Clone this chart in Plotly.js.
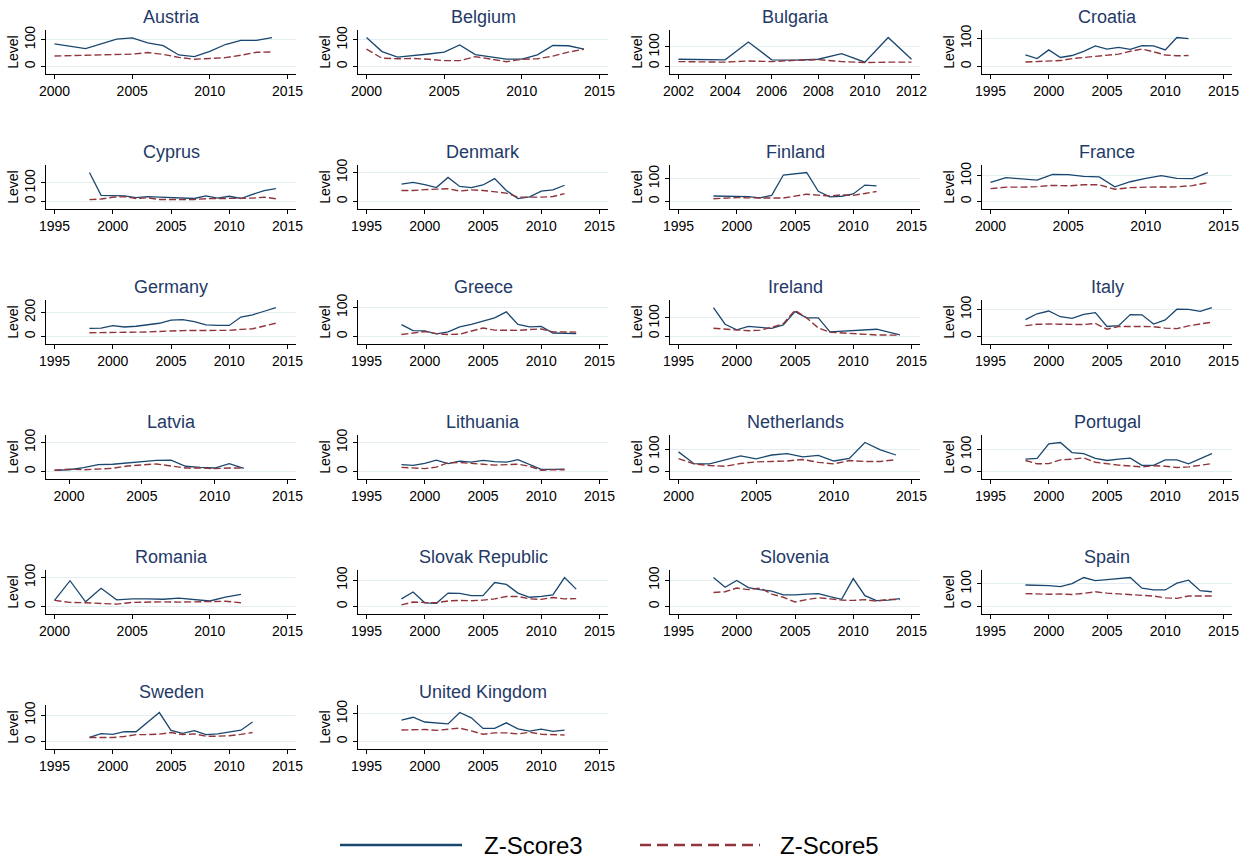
<!DOCTYPE html>
<html>
<head>
<meta charset="utf-8">
<script src="https://cdn.plot.ly/plotly-3.0.1.min.js"></script>
<style>html,body{margin:0;padding:0;background:#fff;}#chart{width:1246px;height:862px;}</style>
</head>
<body>
<div id="chart"></div>
<script>
// ---------- DATA ----------
const countries = ["Austria","Belgium","Bulgaria","Croatia","Cyprus","Denmark","Finland","France",
  "Germany","Greece","Ireland","Italy","Latvia","Lithuania","Netherlands","Portugal",
  "Romania","Slovak Republic","Slovenia","Spain","Sweden","United Kingdom"];

const yearsAustria = [2000,2002,2004,2005,2006,2007,2008,2009,2010,2011,2012,2013,2014];
const z3Austria = [84,67,102,107,88,78,43,37,56,82,97,97,108];
const z5Austria = [39,42,43,46,52,45,34,27,30,33,42,53,54];

const yearsBelgium = [2000,2001,2002,2003,2004,2005,2006,2007,2008,2009,2010,2011,2012,2013,2014];
const z3Belgium = [109,56,35,40,47,54,81,45,37,28,28,44,79,78,65];
const z5Belgium = [65,31,29,30,27,22,22,37,28,18,27,29,39,54,65];

const yearsBulgaria = [2002,2003,2004,2005,2006,2007,2008,2009,2010,2011,2012];
const z3Bulgaria = [37,35,34,125,34,32,37,66,22,148,37];
const z5Bulgaria = [25,24,22,28,25,31,35,25,20,22,22];

const yearsCroatia = [1998,1999,2000,2001,2002,2003,2004,2005,2006,2007,2008,2009,2010,2011,2012];
const z3Croatia = [41,28,59,32,39,54,73,62,68,61,74,73,59,103,99];
const z5Croatia = [16,17,19,21,28,32,35,40,44,54,62,52,41,38,39];

const yearsCyprus = [1998,1999,2000,2001,2002,2003,2004,2005,2006,2007,2008,2009,2010,2011,2012,2013,2014];
const z3Cyprus = [156,33,31,30,21,26,23,21,20,16,30,18,28,16,38,59,69];
const z5Cyprus = [10,13,23,26,16,20,11,10,11,11,15,16,18,15,18,23,15];

const yearsDenmark = [1998,1999,2000,2001,2002,2003,2004,2005,2006,2007,2008,2009,2010,2011,2012];
const z3Denmark = [60,66,58,48,83,52,48,57,79,38,10,16,36,40,56];
const z5Denmark = [38,38,41,42,44,36,40,38,33,29,15,14,15,17,27];

const yearsFinland = [1998,1999,2000,2001,2002,2003,2004,2005,2006,2007,2008,2009,2010,2011,2012];
const z3Finland = [24,24,21,21,16,27,116,121,127,45,20,23,33,72,68];
const z5Finland = [12,16,17,16,17,15,15,25,32,28,24,29,27,35,44];

const yearsFrance = [2000,2001,2002,2003,2004,2005,2006,2007,2008,2009,2010,2011,2012,2013,2014];
const z3France = [75,93,88,83,106,105,98,96,57,77,90,101,90,89,113];
const z5France = [50,56,56,58,63,61,65,65,48,54,56,56,57,62,74];

const yearsGermany = [1998,1999,2000,2001,2002,2003,2004,2005,2006,2007,2008,2009,2010,2011,2012,2013,2014];
const z3Germany = [67,69,90,79,85,97,110,136,141,123,97,92,92,162,180,210,241];
const z5Germany = [31,31,31,31,36,38,44,46,49,49,46,49,51,59,64,87,110];

const yearsGreece = [1998,1999,2000,2001,2002,2003,2004,2005,2006,2007,2008,2009,2010,2011,2012,2013];
const z3Greece = [41,20,19,9,16,33,42,52,64,85,42,33,35,12,11,10];
const z5Greece = [7,12,17,10,7,8,18,29,22,21,21,24,26,16,15,15];

const yearsIreland = [1998,1999,2000,2001,2002,2003,2004,2005,2006,2007,2008,2010,2012,2014];
const z3Ireland = [156,66,36,54,49,44,62,134,100,100,25,32,39,8];
const z5Ireland = [44,39,33,31,34,49,69,141,100,46,23,16,8,7];

const yearsItaly = [1998,1999,2000,2001,2002,2003,2004,2005,2006,2007,2008,2009,2010,2011,2012,2013,2014];
const z3Italy = [62,84,94,73,67,82,88,37,40,81,80,46,61,101,100,93,107];
const z5Italy = [40,45,46,45,43,44,48,27,37,38,37,36,31,29,39,46,53];

const yearsLatvia = [1999,2000,2001,2002,2003,2004,2005,2006,2007,2008,2009,2010,2011,2012];
const z3Latvia = [4,6,13,24,25,30,34,38,39,18,14,12,27,11];
const z5Latvia = [4,8,6,8,11,19,22,26,19,12,12,10,12,12];

const yearsLithuania = [1998,1999,2000,2001,2002,2003,2004,2005,2006,2007,2008,2009,2010,2011,2012];
const z3Lithuania = [24,21,28,39,27,36,32,38,34,32,41,23,7,7,8];
const z5Lithuania = [14,12,10,15,30,31,29,25,22,24,25,18,4,6,6];

const yearsNetherlands = [2000,2001,2002,2003,2004,2005,2006,2007,2008,2009,2010,2011,2012,2013,2014];
const z3Netherlands = [88,35,34,51,70,57,74,80,66,72,47,59,130,97,74];
const z5Netherlands = [58,34,27,23,36,43,45,47,54,41,34,49,45,45,53];

const yearsPortugal = [1998,1999,2000,2001,2002,2003,2004,2005,2006,2007,2008,2009,2010,2011,2012,2013,2014];
const z3Portugal = [56,60,126,132,86,81,60,50,56,61,28,28,53,53,35,58,81];
const z5Portugal = [50,35,36,53,56,62,42,35,29,25,21,26,24,18,21,28,36];

const yearsRomania = [2000,2001,2002,2003,2004,2005,2006,2007,2008,2009,2010,2011,2012];
const z3Romania = [21,89,16,63,23,26,26,25,29,23,19,32,42];
const z5Romania = [21,14,13,11,8,14,16,16,15,16,17,18,13];

const yearsSlovak = [1998,1999,2000,2001,2002,2003,2004,2005,2006,2007,2008,2009,2010,2011,2012,2013];
const z3Slovak = [29,55,14,12,51,50,41,41,91,84,51,35,38,44,110,66];
const z5Slovak = [6,17,15,14,21,23,22,24,29,38,38,29,27,34,29,30];

const yearsSlovenia = [1998,1999,2000,2001,2002,2003,2004,2005,2006,2007,2008,2009,2010,2011,2012,2013,2014];
const z3Slovenia = [110,73,99,72,64,58,44,44,47,49,37,27,106,41,22,24,30];
const z5Slovenia = [53,56,70,64,70,47,35,17,26,33,29,24,23,26,20,27,26];

const yearsSpain = [1998,1999,2000,2001,2002,2003,2004,2005,2006,2007,2008,2009,2010,2011,2012,2013,2014];
const z3Spain = [95,95,92,88,101,128,114,119,124,128,81,73,73,103,116,70,65];
const z5Spain = [57,54,54,55,53,58,65,59,55,51,49,46,38,36,46,46,46];

const yearsSweden = [1998,1999,2000,2001,2002,2003,2004,2005,2006,2007,2008,2009,2010,2011,2012];
const z3Sweden = [16,30,27,37,37,74,110,42,31,41,26,29,35,43,74];
const z5Sweden = [15,14,15,19,26,26,28,34,26,29,20,20,22,27,34];

const yearsUK = [1998,1999,2000,2001,2002,2003,2004,2005,2006,2007,2008,2009,2010,2011,2012];
const z3UK = [77,87,70,67,63,104,85,47,47,67,45,37,44,36,41];
const z5UK = [41,42,43,40,44,48,38,26,31,31,27,33,26,24,23];

// x-axis tick labels (first, last, step) and y tick step per panel
const xTickFrom = [2000,2000,2002,1995,1995,1995,1995,2000,1995,1995,1995,1995,2000,1995,2000,1995,2000,1995,1995,1995,1995,1995];
const xTickTo   = [2015,2015,2012,2015,2015,2015,2015,2015,2015,2015,2015,2015,2015,2015,2015,2015,2015,2015,2015,2015,2015,2015];
const xTickStep = [5,5,2,5,5,5,5,5,5,5,5,5,5,5,5,5,5,5,5,5,5,5];
const yTickStep = [100,100,100,100,100,100,100,100,200,100,100,100,100,100,100,100,100,100,100,100,100,100];
const yTitles = ["Level","Level","Level","Level","Level","Level","Level","Level","Level","Level","Level","Level",
  "Level","Level","Level","Level","Level","","","Level","Level","Level"];
const seriesNames = ["Z-Score3","Z-Score5"];

const yearsList = [yearsAustria,yearsBelgium,yearsBulgaria,yearsCroatia,yearsCyprus,yearsDenmark,yearsFinland,yearsFrance,
  yearsGermany,yearsGreece,yearsIreland,yearsItaly,yearsLatvia,yearsLithuania,yearsNetherlands,yearsPortugal,
  yearsRomania,yearsSlovak,yearsSlovenia,yearsSpain,yearsSweden,yearsUK];
const z3List = [z3Austria,z3Belgium,z3Bulgaria,z3Croatia,z3Cyprus,z3Denmark,z3Finland,z3France,
  z3Germany,z3Greece,z3Ireland,z3Italy,z3Latvia,z3Lithuania,z3Netherlands,z3Portugal,
  z3Romania,z3Slovak,z3Slovenia,z3Spain,z3Sweden,z3UK];
const z5List = [z5Austria,z5Belgium,z5Bulgaria,z5Croatia,z5Cyprus,z5Denmark,z5Finland,z5France,
  z5Germany,z5Greece,z5Ireland,z5Italy,z5Latvia,z5Lithuania,z5Netherlands,z5Portugal,
  z5Romania,z5Slovak,z5Slovenia,z5Spain,z5Sweden,z5UK];

// ---------- LAYOUT / STYLE ----------
const W = 1246, H = 862;
const colLeft0 = 46, colPitch = 312, pw = 250;
const rowTop0 = 30, rowPitch = 135, ph = 44;
const C3 = '#1a476f', C5 = '#90353b';
const FONT = 'Liberation Sans, Arial, sans-serif';

const traces = [];
const layout = {
  width: W, height: H,
  margin: {l:0, r:0, t:0, b:0},
  paper_bgcolor: '#ffffff', plot_bgcolor: '#ffffff',
  showlegend: false,
  font: {family: FONT, color: '#000', size: 14},
  annotations: [], shapes: []
};

countries.forEach((name, i) => {
  const r = Math.floor(i / 4), c = i % 4;
  const sfx = i === 0 ? '' : String(i + 1);
  const left = colLeft0 + c * colPitch, top = rowTop0 + r * rowPitch;
  const yrs = yearsList[i], a = z3List[i], b = z5List[i];

  traces.push({x: yrs, y: a, xaxis: 'x' + sfx, yaxis: 'y' + sfx, type: 'scatter', mode: 'lines',
    name: seriesNames[0], line: {color: C3, width: 1.3}, hoverinfo: 'skip'});
  traces.push({x: yrs, y: b, xaxis: 'x' + sfx, yaxis: 'y' + sfx, type: 'scatter', mode: 'lines',
    name: seriesNames[1], line: {color: C5, width: 1.4, dash: '7px,3px'}, hoverinfo: 'skip'});

  const xmin = Math.min(yrs[0], xTickFrom[i]);
  const xmax = Math.max(yrs[yrs.length - 1], xTickTo[i]);
  const xpad = (xmax - xmin) * 8.5 / (pw - 17);
  const xt = [];
  for (let t = xTickFrom[i]; t <= xTickTo[i]; t += xTickStep[i]) xt.push(t);

  const dmax = Math.max(...a, ...b);
  const st = yTickStep[i];
  const lastTick = Math.max(st, Math.floor(dmax / st) * st);
  const hi = Math.max(dmax, lastTick), lo = 0;
  const ypad = (hi - lo) * 0.26;
  const yt = [];
  for (let t = 0; t <= lastTick; t += st) yt.push(t);

  layout['xaxis' + sfx] = {
    domain: [left / W, (left + pw) / W], anchor: 'y' + sfx,
    range: [xmin - xpad, xmax + xpad], tickvals: xt, ticktext: xt.map(String),
    ticks: 'outside', ticklen: 4, tickwidth: 1, tickcolor: '#000',
    showline: true, linecolor: '#000', linewidth: 1,
    showgrid: false, zeroline: false, fixedrange: true,
    tickfont: {size: 14, family: FONT, color: '#000'}
  };
  layout['yaxis' + sfx] = {
    domain: [1 - (top + ph) / H, 1 - top / H], anchor: 'x' + sfx,
    range: [lo - ypad, hi + ypad], tickvals: yt, ticktext: yt.map(String),
    tickangle: -90,
    ticks: 'outside', ticklen: 4, tickwidth: 1, tickcolor: '#000',
    showline: true, linecolor: '#000', linewidth: 1,
    showgrid: true, gridcolor: '#e4eef0', gridwidth: 1, zeroline: false, fixedrange: true,
    tickfont: {size: 14, family: FONT, color: '#000'},
    title: {text: yTitles[i], font: {size: 14, family: FONT, color: '#000'}, standoff: 0}
  };
  layout.annotations.push({
    text: name, xref: 'paper', yref: 'paper',
    x: (left + pw / 2) / W, y: 1 - (17 + r * rowPitch) / H,
    xanchor: 'center', yanchor: 'middle', showarrow: false,
    font: {size: 18, family: FONT, color: '#1f3a68'}
  });
});

// ---------- LEGEND (drawn below the panels) ----------
const legY = 1 - 845 / H;
layout.shapes.push({type: 'line', xref: 'paper', yref: 'paper', x0: 340 / W, x1: 462 / W, y0: legY, y1: legY,
  line: {color: C3, width: 2.5}});
layout.shapes.push({type: 'line', xref: 'paper', yref: 'paper', x0: 640 / W, x1: 760 / W, y0: legY, y1: legY,
  line: {color: C5, width: 2.5, dash: '11px,6px'}});
layout.annotations.push({text: seriesNames[0], xref: 'paper', yref: 'paper', x: 482 / W, y: legY,
  xanchor: 'left', yanchor: 'middle', showarrow: false, font: {size: 24, family: FONT, color: '#000'}});
layout.annotations.push({text: seriesNames[1], xref: 'paper', yref: 'paper', x: 778 / W, y: legY,
  xanchor: 'left', yanchor: 'middle', showarrow: false, font: {size: 24, family: FONT, color: '#000'}});

Plotly.newPlot('chart', traces, layout, {staticPlot: true, displayModeBar: false});
</script>
</body>
</html>
